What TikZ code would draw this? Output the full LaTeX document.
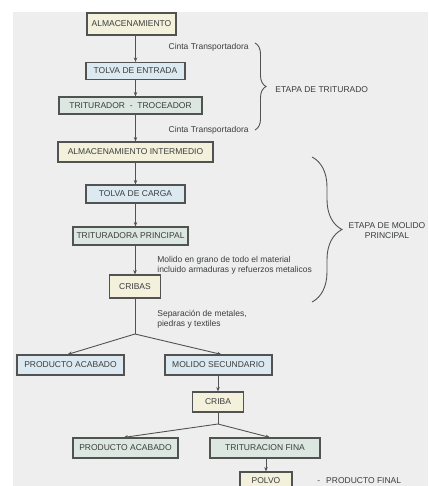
\documentclass[tikz,border=0pt]{standalone}
\usepackage{fontspec}
\setmainfont{Liberation Sans}
\usetikzlibrary{arrows.meta,decorations.pathreplacing}

\definecolor{fondo}{RGB}{238,238,238}
\definecolor{borde}{RGB}{80,83,81}
\definecolor{texto}{RGB}{60,62,62}
\definecolor{amarillo}{RGB}{243,241,220}
\definecolor{celeste}{RGB}{220,233,240}
\definecolor{verdoso}{RGB}{221,231,225}

\tikzset{every picture/.style={line width=0.75pt}}

\begin{document}
\begin{tikzpicture}[x=1pt,y=1pt,yscale=-1,xscale=1,
  caja/.style={draw=borde, line width=1.1pt, inner sep=0pt, text=texto, font=\fontsize{8.5}{10}\selectfont},
  cajaamarilla/.style={caja, fill=amarillo},
  cajaceleste/.style={caja, fill=celeste},
  cajaverde/.style={caja, fill=verdoso},
  flecha/.style={draw=borde, line width=0.9pt, -{Stealth[length=4.5pt,width=3.5pt]}},
  linea/.style={draw=borde, line width=0.9pt},
  llave/.style={draw=borde, line width=0.9pt, decorate},
  nota/.style={text=texto, inner sep=0pt, align=left, font=\fontsize{8.5}{10}\selectfont}]
\useasboundingbox (0,0) rectangle (428,486);
\clip (0,0) rectangle (428,486);
\fill[fondo] (13,12) rectangle (428,486);

%Shape: Rectangle [id:alm]
\node[cajaamarilla, minimum width=89, minimum height=22] (alm) at (131.5,24) {ALMACENAMIENTO};
%Shape: Rectangle [id:tolvae]
\node[cajaceleste, minimum width=99, minimum height=17] (tolvae) at (135.5,71) {TOLVA DE ENTRADA};
%Shape: Rectangle [id:trit]
\node[cajaverde, minimum width=143, minimum height=17] (trit) at (130.5,105.5) {TRITURADOR \ - \ TROCEADOR};
%Shape: Rectangle [id:almint]
\node[cajaamarilla, minimum width=155, minimum height=20] (almint) at (135.5,152) {ALMACENAMIENTO INTERMEDIO};
%Shape: Rectangle [id:tolvac]
\node[cajaceleste, minimum width=99, minimum height=18] (tolvac) at (135.5,194) {TOLVA DE CARGA};
%Shape: Rectangle [id:tritp]
\node[cajaverde, minimum width=115, minimum height=18] (tritp) at (130.5,236) {TRITURADORA PRINCIPAL};
%Shape: Rectangle [id:cribas]
\node[cajaamarilla, minimum width=51, minimum height=23] (cribas) at (135,286.5) {CRIBAS};
%Shape: Rectangle [id:prodA]
\node[cajaceleste, minimum width=107, minimum height=20] (prodA) at (70.5,365) {PRODUCTO ACABADO};
%Shape: Rectangle [id:molsec]
\node[cajaceleste, minimum width=107, minimum height=20] (molsec) at (218.5,365) {MOLIDO SECUNDARIO};
%Shape: Rectangle [id:criba]
\node[cajaamarilla, minimum width=51, minimum height=20] (criba) at (218,402) {CRIBA};
%Shape: Rectangle [id:prodB]
\node[cajaverde, minimum width=105, minimum height=20] (prodB) at (125.5,448) {PRODUCTO ACABADO};
%Shape: Rectangle [id:trifina]
\node[cajaverde, minimum width=110, minimum height=20] (trifina) at (265,448) {TRITURACION FINA};
%Shape: Rectangle [id:polvo]
\node[cajaamarilla, minimum width=52, minimum height=18] (polvo) at (266,481) {POLVO};

\coordinate (ramA) at (135,334);
\coordinate (ramB) at (218,424);

%Straight Lines
\draw[flecha] (alm.south -| tolvae.north) -- (tolvae.north);
\draw[flecha] (tolvae.south) -- (tolvae.south |- trit.north);
\draw[flecha] (trit.south -| almint.north) -- (almint.north);
\draw[flecha] (almint.south) -- (tolvac.north);
\draw[flecha] (tolvac.south) -- (tolvac.south |- tritp.north);
\draw[flecha] (cribas.north |- tritp.south) -- (cribas.north);
\draw[linea] (cribas.south) -- (ramA);
\draw[flecha] (ramA) -- ([xshift=-3]prodA.north);
\draw[flecha] (ramA) -- ([xshift=3]molsec.north);
\draw[flecha] (molsec.south -| criba.north) -- (criba.north);
\draw[linea] (criba.south) -- (ramB);
\draw[flecha] (ramB) -- ([xshift=-2]prodB.north);
\draw[flecha] (ramB) -- ([xshift=5]trifina.north);
\draw[flecha] (trifina.south -| polvo.north) -- (polvo.north);

%Braces
\draw[llave, decoration={brace, amplitude=11pt}] (255,43) -- (255,130);
\draw[llave, decoration={brace, amplitude=30pt}] (312,157) -- (312,302);

% Text Node
\node[nota, anchor=east] (cintaA) at (249,47) {Cinta Transportadora};
% Text Node
\node[nota, anchor=east] (cintaB) at (249,130) {Cinta Transportadora};
% Text Node
\node[nota, anchor=west] (etapaA) at (275,90) {ETAPA DE TRITURADO};
% Text Node
\node[nota, align=center] (etapaB) at (387,231) {ETAPA DE MOLIDO\\PRINCIPAL};
% Text Node
\node[nota, anchor=west] (molido) at (157,265) {Molido en grano de todo el material\\incluido armaduras y refuerzos metalicos};
% Text Node
\node[nota, anchor=west] (separa) at (157,319.5) {Separación de metales,\\piedras y textiles};
% Text Node
\node[nota, anchor=west] (final) at (317,481) {-\hspace{6pt}PRODUCTO FINAL};

\end{tikzpicture}
\end{document}
